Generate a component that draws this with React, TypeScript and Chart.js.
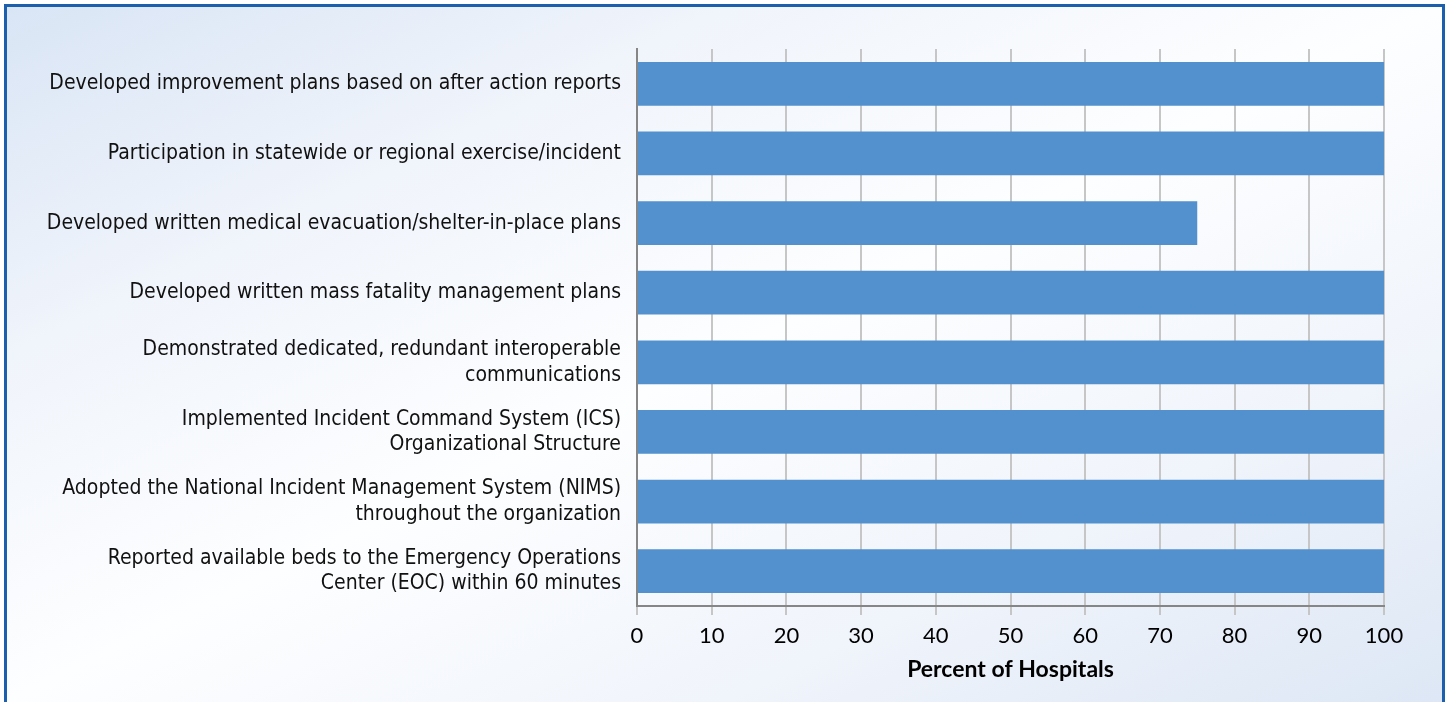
import React, { useEffect, useRef } from "react";
import { Chart, registerables } from "chart.js";
Chart.register(...registerables);

const categories: (string | string[])[] = [
  "Developed improvement plans based on after action reports",
  "Participation in statewide or regional exercise/incident",
  "Developed written medical evacuation/shelter-in-place plans",
  "Developed written mass fatality management plans",
  ["Demonstrated dedicated, redundant interoperable", "communications"],
  ["Implemented Incident Command System (ICS)", "Organizational Structure"],
  ["Adopted the National Incident Management System (NIMS)", "throughout the organization"],
  ["Reported available beds to the Emergency Operations", "Center (EOC) within 60 minutes"],
];
const percentValues = [100, 100, 75, 100, 100, 100, 100, 100];
const xMin = 0;
const xMax = 100;
const xStep = 10;
const xTitle = "Percent of Hospitals";

const W = 1435;
const H = 695;

export default function App() {
  const ref = useRef<HTMLCanvasElement | null>(null);
  useEffect(() => {
    document.body.style.overflow = "hidden";
    const canvas = ref.current;
    if (!canvas) return;
    const chart = new Chart(canvas, {
      type: "bar",
      data: {
        labels: categories as any,
        datasets: [
          {
            data: percentValues,
            backgroundColor: "#5291CE",
            borderWidth: 0,
            barPercentage: 0.63,
            categoryPercentage: 1,
          },
        ],
      },
      options: {
        indexAxis: "y",
        animation: false,
        responsive: false,
        devicePixelRatio: 1,
        layout: { padding: { left: 0, right: 58, top: 42, bottom: 0 } },
        plugins: { legend: { display: false }, tooltip: { enabled: false } },
        scales: {
          x: {
            min: xMin,
            max: xMax,
            ticks: {
              stepSize: xStep,
              color: "#000000",
              padding: 8,
              font: { family: "Lato, 'Open Sans', sans-serif", size: 22 },
            },
            grid: {
              color: "#c6c6c6",
              lineWidth: 2,
              tickLength: 9,
              tickColor: "#c6c6c6",
            },
            border: { display: true, color: "#868686", width: 2 },
            title: {
              display: true,
              text: xTitle,
              color: "#000000",
              padding: { top: 0, bottom: 19 },
              font: { family: "Lato, 'Open Sans', sans-serif", size: 23, weight: "bold" },
            },
            afterFit: (s: any) => {
              s.height = 96;
            },
          },
          y: {
            ticks: {
              color: "#111111",
              padding: 16,
              font: {
                family: "'DejaVu Sans Condensed', 'Liberation Sans', sans-serif",
                size: 21,
                lineHeight: 1.22,
              },
            },
            grid: { display: false, drawTicks: false },
            border: { display: true, color: "#868686", width: 2 },
            afterFit: (s: any) => {
              s.width = 630;
            },
          },
        },
      },
    });
    return () => chart.destroy();
  }, []);

  return (
    <div
      style={{
        position: "fixed",
        left: 4,
        top: 4,
        width: W,
        height: H,
        borderTop: "3px solid #1b5fad",
        borderLeft: "3px solid #1b5fad",
        borderRight: "3px solid #1b5fad",
        background:
          "linear-gradient(to bottom right, #d9e5f5 0%, #f0f4fb 25%, #fdfeff 50%, #f0f4fb 75%, #dde7f5 100%)",
      }}
    >
      <canvas ref={ref} width={W} height={H} style={{ display: "block", width: W, height: H }} />
    </div>
  );
}
